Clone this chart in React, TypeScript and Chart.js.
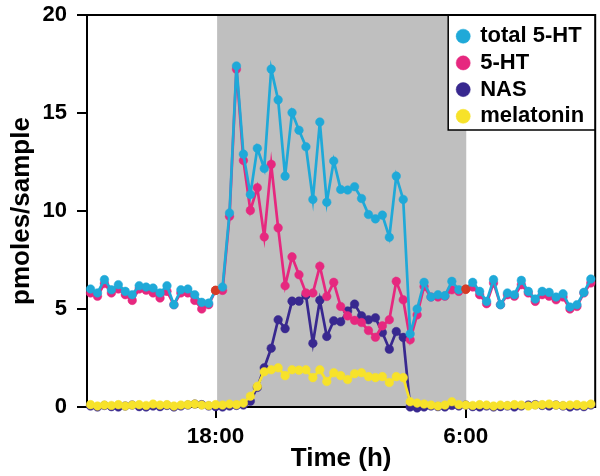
import React, { useEffect, useRef } from "react";
import { Chart, registerables } from "chart.js";

Chart.register(...registerables);

// ---- data (hours relative to 18:00, one sample every 20 min) ----
const sampleStartHour = -6;
const sampleStepHour = 1 / 3;

const total5HT = [
  6.02, 5.82, 6.5, 5.98, 6.24, 5.9, 5.73, 6.19, 6.12, 6.07, 5.82, 6.19, 5.22, 5.98, 6.02, 5.73, 5.34, 5.3,
  5.95, 6.12, 9.9, 17.4, 12.9, 10.84, 13.2, 12.17, 17.24, 15.67, 11.78, 15.02, 14.12, 13.28, 10.59, 14.54, 10.45, 12.55,
  11.1, 11.07, 11.24, 10.64, 9.82, 9.6, 9.79, 8.66, 11.78, 10.59, 3.73, 5.0, 6.36, 5.61, 5.73, 5.68, 6.41, 5.98,
  6.02, 6.36, 5.9, 5.39, 6.5, 5.22, 5.82, 5.73, 6.46, 5.9, 5.51, 5.9, 5.85, 5.61, 5.78, 5.1, 5.22, 5.85, 6.53,
];

const serotonin = [
  5.82, 5.65, 6.3, 5.82, 6.02, 5.73, 5.44, 6.02, 5.96, 5.82, 5.56, 5.9, 5.22, 5.82, 5.82, 5.44, 5.0, 5.22,
  5.95, 5.95, 9.73, 17.24, 12.58, 10.03, 11.19, 8.68, 12.38, 9.14, 6.19, 7.66, 6.75, 5.82, 5.82, 7.18, 5.64, 6.36,
  5.13, 4.65, 4.42, 4.31, 3.9, 3.56, 4.14, 4.45, 6.41, 5.47, 3.43, 4.7, 6.15, 5.61, 5.61, 5.65, 5.98, 5.9,
  6.0, 6.12, 5.73, 5.27, 6.33, 5.22, 5.73, 5.65, 6.24, 5.82, 5.39, 5.73, 5.65, 5.47, 5.61, 5.0, 5.13, 5.82, 6.33,
];

const nas = [
  0.05, 0.0, 0.08, 0.02, 0.0, 0.05, 0.1, 0.02, 0.0, 0.05, 0.02, 0.08, 0.0, 0.05, 0.1, 0.15, 0.12, 0.05,
  0.02, 0.0, 0.05, 0.08, 0.1, 0.3, 1.0, 2.0, 3.0, 4.45, 4.0, 5.4, 5.4, 5.7, 3.25, 5.45, 3.6, 4.4,
  4.35, 4.9, 5.25, 4.65, 4.45, 4.55, 3.8, 2.95, 3.85, 3.55, 0.0, -0.05, 0.0, 0.05, 0.02, 0.0, 0.08, 0.05,
  0.1, 0.02, 0.0, 0.05, 0.0, 0.02, 0.05, 0.0, 0.05, 0.1, 0.12, 0.08, 0.05, 0.1, 0.05, 0.0, 0.05, 0.02, 0.1,
];

const melatonin = [
  0.12, 0.05, 0.1, 0.08, 0.12, 0.05, 0.1, 0.12, 0.08, 0.15, 0.1, 0.12, 0.05, 0.1, 0.12, 0.15, 0.1, 0.08,
  0.12, 0.1, 0.15, 0.12, 0.2, 0.55, 1.05, 1.8, 1.9, 2.0, 1.6, 1.9, 1.88, 1.9, 1.5, 1.9, 1.3, 1.75,
  1.6, 1.4, 1.7, 1.75, 1.55, 1.5, 1.55, 1.25, 1.55, 1.5, 0.27, 0.2, 0.15, 0.1, 0.05, 0.1, 0.27, 0.12,
  0.1, 0.08, 0.12, 0.1, 0.05, 0.1, 0.08, 0.12, 0.1, 0.05, 0.1, 0.12, 0.15, 0.1, 0.08, 0.1, 0.12, 0.08, 0.15,
];

const seriesLabels = ["total 5-HT", "5-HT", "NAS", "melatonin"];
const lightChangeHours = [0, 12]; // lights off (18:00) and lights on (6:00)
const xTickValues = [0, 12];
const xTickLabels = ["18:00", "6:00"];
const yTickValues = [0, 5, 10, 15, 20];
const xRange = [-6.17, 18.21];
const yRange = [0, 20];

const sampleTimes = total5HT.map((_, i) => sampleStartHour + i * sampleStepHour);

// ---- styles ----
const FONT = "'Liberation Sans', Arial, Helvetica, sans-serif";
const COLORS = {
  total: "#1FA9D8",
  ht: "#E6287F",
  nas: "#38288F",
  mel: "#F7E22A",
  mark: "#D63B26",
  band: "#BFBFBF",
};

export default function App() {
  const ref = useRef<HTMLCanvasElement | null>(null);

  useEffect(() => {
    const canvas = ref.current;
    if (!canvas) return;

    const toPts = (vals: number[]) => vals.map((y, i) => ({ x: sampleTimes[i], y }));
    const markColors = (base: string) =>
      sampleTimes.map((t) => (lightChangeHours.some((h) => Math.abs(h - t) < 1e-6) ? COLORS.mark : base));

    const makeDs = (label: string, vals: number[], color: string, order: number, marks: boolean) => ({
      label,
      data: toPts(vals),
      borderColor: color,
      backgroundColor: color,
      pointBackgroundColor: marks ? markColors(color) : color,
      pointBorderColor: marks ? markColors(color) : color,
      pointRadius: 4.3,
      pointBorderWidth: 0.5,
      borderWidth: 2.7,
      tension: 0,
      clip: false as const,
      order,
    });

    const decor = {
      id: "decor",
      beforeDraw(chart: any) {
        const { ctx, chartArea: a, scales } = chart;
        const x = scales.x;
        ctx.save();
        const x0 = x.getPixelForValue(lightChangeHours[0]) + 1.5;
        const x1 = x.getPixelForValue(lightChangeHours[1]) + 0.5;
        ctx.fillStyle = COLORS.band;
        ctx.fillRect(x0, a.top, x1 - x0, a.bottom - a.top);
        // legend background box
        ctx.fillStyle = "#fff";
        ctx.fillRect(a.right - 147, a.top, 147, 115);
        ctx.restore();
        // place legend at top-right inside plot
        const lg = chart.legend;
        if (lg) {
          lg.left = a.right - 142.7;
          lg.top = a.top + 5.5;
          lg.right = a.right;
          lg.bottom = a.top + 150;
          lg.width = lg.right - lg.left;
          lg.height = lg.bottom - lg.top;
        }
      },
      beforeDatasetsDraw(chart: any) {
        const { ctx, chartArea: a } = chart;
        ctx.save();
        ctx.strokeStyle = "#000";
        ctx.lineWidth = 2;
        ctx.beginPath();
        ctx.moveTo(a.left - 1, a.top);
        ctx.lineTo(a.right, a.top);
        ctx.lineTo(a.right, a.bottom + 1);
        ctx.stroke();
        ctx.lineWidth = 1.5;
        ctx.beginPath();
        ctx.moveTo(a.right - 147, a.top);
        ctx.lineTo(a.right - 147, a.top + 115);
        ctx.lineTo(a.right, a.top + 115);
        ctx.stroke();
        ctx.restore();
      },
    };

    const tickFont = { family: FONT, size: 22, weight: "bold" as const };
    const xTickFont = { family: FONT, size: 22.5, weight: "bold" as const };
    const titleFont = { family: FONT, size: 26, weight: "bold" as const };

    const chart = new Chart(canvas, {
      type: "line",
      data: {
        datasets: [
          makeDs(seriesLabels[0], total5HT, COLORS.total, 0, true),
          makeDs(seriesLabels[1], serotonin, COLORS.ht, 1, true),
          makeDs(seriesLabels[2], nas, COLORS.nas, 3, false),
          makeDs(seriesLabels[3], melatonin, COLORS.mel, 2, false),
        ],
      },
      options: {
        responsive: false,
        animation: false,
        devicePixelRatio: 1,
        layout: { padding: { left: 0, top: 15, right: 3, bottom: 0 } },
        plugins: {
          tooltip: { enabled: false },
          legend: {
            display: true,
            position: "chartArea" as any,
            align: "start",
            labels: {
              usePointStyle: true,
              pointStyle: "circle",
              boxWidth: 12,
              boxHeight: 10,
              padding: 4.7,
              color: "#000",
              font: tickFont,
              sort: (a: any, b: any) => a.datasetIndex - b.datasetIndex,
            },
          },
        },
        scales: {
          x: {
            type: "linear",
            min: xRange[0],
            max: xRange[1],
            afterBuildTicks: (s: any) => {
              s.ticks = xTickValues.map((v) => ({ value: v }));
            },
            afterFit: (s: any) => {
              s.height = 69;
              s.paddingLeft = 0;
              s.paddingRight = 0;
            },
            ticks: {
              callback: (v: any) => {
                const i = xTickValues.indexOf(Number(v));
                return i >= 0 ? xTickLabels[i] : "";
              },
              font: xTickFont,
              color: "#000",
              padding: 5,
              maxRotation: 0,
              autoSkip: false,
            },
            grid: { drawOnChartArea: false, drawTicks: true, tickLength: 11, color: "#000", lineWidth: 2 },
            border: { display: true, color: "#000", width: 2 },
            title: {
              display: true,
              text: "Time (h)",
              font: titleFont,
              color: "#000",
              padding: { top: 0, bottom: 2 },
            },
          },
          y: {
            type: "linear",
            min: yRange[0],
            max: yRange[1],
            afterBuildTicks: (s: any) => {
              s.ticks = yTickValues.map((v) => ({ value: v }));
            },
            afterFit: (s: any) => {
              s.width = 87;
              s.paddingTop = 0;
              s.paddingBottom = 0;
            },
            ticks: {
              callback: (v: any) => String(v),
              font: tickFont,
              color: "#000",
              padding: 10,
            },
            grid: { drawOnChartArea: false, drawTicks: true, tickLength: 10, color: "#000", lineWidth: 2 },
            border: { display: true, color: "#000", width: 2 },
            title: {
              display: true,
              text: "pmoles/sample",
              font: titleFont,
              color: "#000",
              padding: { top: 6, bottom: 0 },
            },
          },
        },
      },
      plugins: [decor],
    });

    return () => chart.destroy();
  }, []);

  return (
    <div style={{ position: "fixed", left: 0, top: 0, width: 600, height: 476, background: "#fff" }}>
      <canvas ref={ref} width={600} height={476} style={{ display: "block", width: 600, height: 476 }} />
    </div>
  );
}
